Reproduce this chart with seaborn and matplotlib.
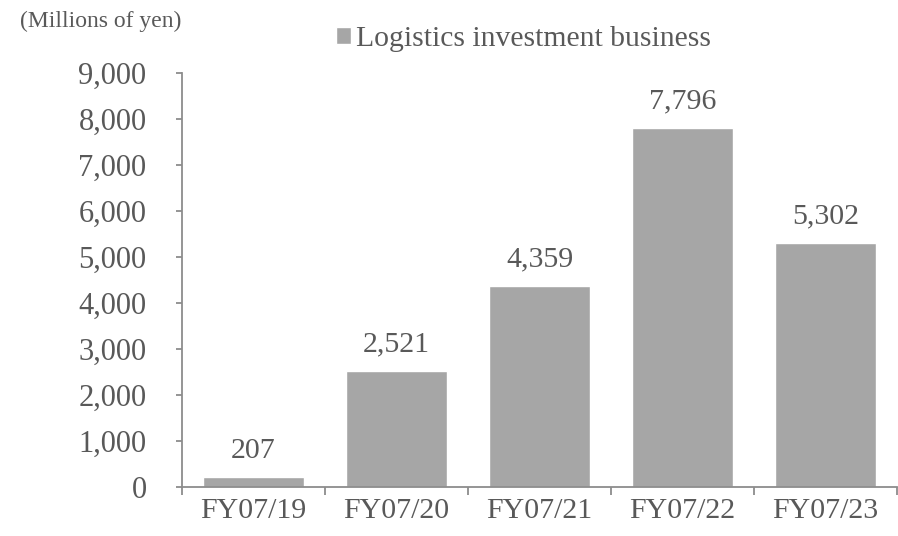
import numpy as np
import pandas as pd
import seaborn as sns
import matplotlib.pyplot as plt
from matplotlib.ticker import FuncFormatter, FixedLocator

# Datos
categorias = ["FY07/19", "FY07/20", "FY07/21", "FY07/22", "FY07/23"]
valores = [207, 2521, 4359, 7796, 5302]
serie = "Logistics investment business"

df = pd.DataFrame({"cat": categorias, "val": valores})

sns.set_style("white")
plt.rcParams['font.family'] = ['Liberation Serif', 'DejaVu Serif']

gris_barra = "#a6a6a6"
gris_texto = "#595959"
gris_eje = "#8c8c8c"

fig = plt.figure(figsize=(8.98, 5.36), dpi=100)
ax = fig.add_axes([0.2027, 0.0914, 0.7963, 0.7724])

sns.barplot(data=df, x="cat", y="val", color=gris_barra, width=0.71,
            saturation=1, ax=ax, label=serie)

ax.set_xlim(-0.5, len(categorias) - 0.5)
ax.set_ylim(0, 9000)
ax.set_yticks(np.arange(0, 9001, 1000))
ax.yaxis.set_major_formatter(FuncFormatter(lambda v, p: f"{int(v):,}"))
ax.set_xlabel("")
ax.set_ylabel("")

for s in ["top", "right"]:
    ax.spines[s].set_visible(False)
for s in ["left", "bottom"]:
    ax.spines[s].set_color(gris_eje)
    ax.spines[s].set_linewidth(1.3)

ax.tick_params(axis="y", direction="out", length=4.5, width=1.3, color=gris_eje,
               labelsize=22, labelcolor=gris_texto, pad=21, left=True)
ax.tick_params(axis="x", which="major", length=0, labelsize=21.5,
               labelcolor=gris_texto, pad=8)
ax.xaxis.set_minor_locator(FixedLocator(np.arange(-0.5, len(categorias), 1.0)))
ax.tick_params(axis="x", which="minor", direction="out", length=5.5, width=1.3,
               color=gris_eje, bottom=True)

# Etiquetas de valores
for i, v in enumerate(valores):
    ax.annotate(f"{v:,}", (i, v), xytext=(0, 10), textcoords="offset points",
                ha="center", va="bottom", fontsize=21.5, color=gris_texto)

fig.text(0.022, 0.96, "(Millions of yen)", fontsize=17, color=gris_texto,
         ha="left", va="center")

leg = ax.legend(loc="center", bbox_to_anchor=(0.583, 0.927),
                bbox_transform=fig.transFigure, frameon=False, fontsize=21.3,
                handlelength=0.5, handleheight=0.5, handletextpad=0.15)
for t in leg.get_texts():
    t.set_color(gris_texto)

fig.savefig("out.png", dpi=100)
